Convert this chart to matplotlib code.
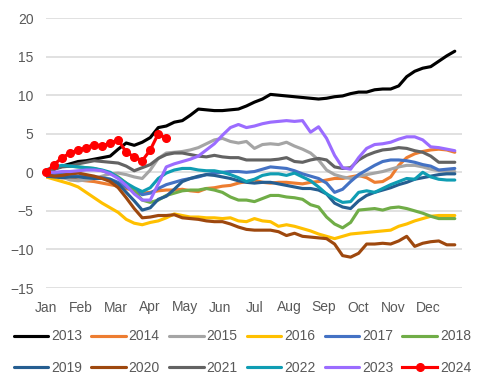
"""Weekly cumulative change by year, Jan-Dec."""

import matplotlib

matplotlib.use("Agg")
import matplotlib.pyplot as plt


MONTHS = ["Jan", "Feb", "Mar", "Apr", "May", "Jun",
          "Jul", "Aug", "Sep", "Oct", "Nov", "Dec"]
YEARS = ["2013", "2014", "2015", "2016", "2017", "2018",
         "2019", "2020", "2021", "2022", "2023", "2024"]

Y2013 = [0, 0.4, 0.8, 1.1, 1.4, 1.5, 1.7, 1.9, 2.1, 3.0, 3.8, 3.5, 3.9, 4.5,
         5.8, 6.0, 6.5, 6.7, 7.4, 8.2, 8.1, 8.0, 8.0, 8.1, 8.2, 8.6, 9.1, 9.5,
         10.1, 10.0, 9.9, 9.8, 9.7, 9.6, 9.5, 9.6, 9.8, 9.9, 10.2, 10.4, 10.4,
         10.7, 10.8, 10.8, 11.2, 12.4, 13.1, 13.5, 13.7, 14.4, 15.1, 15.7]
Y2014 = [-0.2, -0.5, -0.7, -0.8, -1.0, -1.1, -1.2, -1.4, -1.6, -1.8, -2.1,
         -2.4, -2.7, -2.6, -2.4, -2.3, -2.3, -2.2, -2.4, -2.5, -2.1, -2.0,
         -1.8, -1.7, -1.4, -1.2, -1.0, -1.3, -1.4, -1.3, -1.3, -1.4, -1.5,
         -1.3, -1.2, -1.0, -0.8, -0.8, -0.6, -0.4, -0.7, -1.3, -1.2, -0.6,
         0.9, 1.9, 2.4, 2.7, 2.9, 3.0, 2.9, 2.6]
Y2015 = [0, -0.3, -0.6, -1.0, -1.1, -1.0, -0.8, -0.5, -0.2, -0.1, -0.3, -0.6,
         -0.8, 0.3, 1.8, 2.5, 2.6, 2.7, 2.9, 3.2, 3.7, 4.2, 4.4, 4.0, 3.8, 4.0,
         3.1, 3.6, 3.7, 3.6, 3.9, 3.4, 3.0, 2.5, 1.6, 0.3, -0.3, -0.6, -0.8,
         -0.5, -0.3, -0.1, 0.1, 0.4, 0.7, 0.9, 0.9, 0.7, 0.4, 0.2, 0.1, 0.1]
Y2016 = [-0.6, -0.9, -1.2, -1.5, -1.9, -2.6, -3.3, -4.0, -4.6, -5.2, -6.1,
         -6.6, -6.8, -6.5, -6.3, -5.9, -5.4, -5.6, -5.8, -5.8, -5.9, -5.9,
         -6.0, -5.9, -6.3, -6.4, -6.0, -6.3, -6.4, -7.0, -6.8, -7.0, -7.3,
         -7.6, -8.0, -8.3, -8.6, -8.3, -8.0, -7.9, -7.8, -7.7, -7.6, -7.5,
         -7.0, -6.7, -6.3, -6.0, -5.7, -5.6, -5.6, -5.6]
Y2017 = [0, -0.2, -0.3, -0.3, -0.5, -0.5, -0.6, -0.7, -0.9, -1.3, -1.9, -2.4,
         -2.9, -2.7, -2.1, -1.6, -1.3, -1.0, -0.8, -0.6, -0.3, -0.1, 0, 0.1,
         0.1, 0.0, 0.1, 0.4, 0.7, 0.6, 0.5, 0.2, -0.2, -0.5, -0.8, -1.4, -2.6,
         -2.2, -1.2, -0.3, 0.3, 0.9, 1.4, 1.6, 1.6, 1.5, 1.3, 1.0, 0.8, 0.3,
         0.4, 0.5]
Y2018 = [0, 0.5, 0.8, 0.8, 0.7, 0.6, 0.5, 0.2, -0.1, -0.6, -1.4, -2.4, -3.6,
         -3.9, -3.6, -3.0, -2.7, -2.4, -2.3, -2.3, -2.1, -2.3, -2.6, -3.2,
         -3.6, -3.6, -3.8, -3.4, -3.0, -3.0, -3.2, -3.3, -3.5, -4.2, -4.5,
         -5.8, -6.7, -7.2, -6.5, -4.9, -4.8, -4.7, -4.9, -4.6, -4.5, -4.7,
         -5.0, -5.3, -5.7, -6.0, -6.0, -6.0]
Y2019 = [-0.5, -0.6, -0.7, -0.6, -0.6, -0.7, -0.8, -0.8, -0.9, -1.5, -2.6,
         -3.7, -4.9, -4.6, -3.5, -3.1, -2.2, -1.2, -0.8, -0.5, -0.3, -0.4,
         -0.6, -0.8, -1.1, -1.3, -1.4, -1.3, -1.3, -1.5, -1.7, -1.9, -2.1,
         -2.1, -2.3, -2.8, -4.0, -4.5, -4.7, -3.7, -3.0, -2.6, -2.3, -2.0,
         -1.6, -1.3, -0.9, -0.7, -0.5, -0.3, -0.2, -0.2]
Y2020 = [-0.3, -0.5, -0.4, -0.2, -0.1, -0.3, -0.5, -0.8, -1.2, -2.0, -3.3,
         -4.7, -5.9, -5.8, -5.6, -5.6, -5.5, -5.9, -6.0, -6.1, -6.3, -6.4,
         -6.4, -6.7, -7.1, -7.4, -7.5, -7.5, -7.5, -7.7, -8.2, -7.9, -8.3,
         -8.4, -8.5, -8.6, -9.3, -10.8, -11.0, -10.5, -9.3, -9.3, -9.2, -9.3,
         -8.9, -8.3, -9.6, -9.2, -9.0, -8.9, -9.4, -9.4]
Y2021 = [0, 0.4, 0.7, 0.8, 1.1, 1.3, 1.5, 1.4, 1.3, 1.2, 0.8, 0.2, 0.6, 1.0,
         1.8, 2.3, 2.5, 2.5, 2.3, 2.1, 2.0, 2.2, 2.0, 1.9, 1.9, 1.6, 1.6, 1.6,
         1.6, 1.7, 1.9, 1.4, 1.3, 1.6, 1.8, 1.6, 0.7, 0.5, 0.6, 1.6, 2.2, 2.6,
         2.9, 3.0, 3.2, 3.1, 2.8, 2.6, 2.1, 1.3, 1.3, 1.3]
Y2022 = [0.3, 0.7, 0.9, 0.8, 0.7, 0.6, 0.5, 0.3, 0.0, -0.7, -1.4, -2.0, -2.5,
         -2.0, -0.8, -0.1, 0.3, 0.5, 0.5, 0.3, 0.2, 0.2, 0.0, -0.3, -0.7, -1.2,
         -0.9, -0.4, -0.2, -0.2, -0.4, -0.1, -0.6, -1.1, -1.9, -2.8, -3.4,
         -3.9, -3.8, -2.6, -2.4, -2.6, -2.1, -1.6, -1.2, -0.8, -0.9, 0.0,
         -0.6, -0.9, -1.0, -1.0]
Y2023 = [0, 0, 0.1, 0.1, 0.2, 0.3, 0.3, 0.2, -0.2, -0.8, -1.7, -2.8, -3.6,
         -3.6, -1.5, 0.7, 1.1, 1.4, 1.7, 2.1, 2.9, 3.7, 4.8, 5.8, 6.2, 5.8,
         6.0, 6.3, 6.5, 6.6, 6.7, 6.6, 6.7, 5.2, 5.9, 4.4, 2.2, 0.6, 0.4, 1.9,
         3.1, 3.6, 3.7, 3.9, 4.3, 4.6, 4.6, 4.2, 3.3, 3.2, 3.0, 2.8]
Y2024 = [0, 1.0, 1.9, 2.5, 2.9, 3.2, 3.6, 3.4, 3.8, 4.2, 2.6, 2.0, 1.5, 2.9,
         5.0, 4.4]

SERIES = [Y2013, Y2014, Y2015, Y2016, Y2017, Y2018,
          Y2019, Y2020, Y2021, Y2022, Y2023, Y2024]
COLORS = ["#000000", "#ed7d31", "#a5a5a5", "#ffc000", "#4472c4", "#70ad47",
          "#255e91", "#9e480e", "#636363", "#0f9db3", "#9b6cff", "#ff0000"]

WEEKS_PER_YEAR = 52
LEGEND_COLS = 6
TEXT_COLOR = "#595959"

plt.rcParams["font.family"] = ["Liberation Sans", "DejaVu Sans"]
plt.rcParams["font.size"] = 10

fig = plt.figure(figsize=(4.8, 3.84), dpi=100)
ax = fig.add_axes([0.096, 0.25, 0.8665, 0.703])

lines = []
for year, values, color in zip(YEARS, SERIES, COLORS):
    weeks = list(range(len(values)))
    if year == "2024":
        (line,) = ax.plot(weeks, values, color=color, lw=2.25, marker="o",
                          ms=5.5, label=year, clip_on=False, zorder=5)
    else:
        (line,) = ax.plot(weeks, values, color=color, lw=2.25, label=year,
                          solid_capstyle="round", solid_joinstyle="round")
    lines.append(line)

ax.set_xlim(0, 51.9)
ax.set_ylim(-15, 20)
ax.set_yticks(range(-15, 21, 5))
ax.set_xticks([i * WEEKS_PER_YEAR / 12 for i in range(12)], MONTHS)
ax.tick_params(axis="both", length=0, colors=TEXT_COLOR, labelsize=10)
ax.tick_params(axis="y", pad=9)
ax.tick_params(axis="x", pad=9)
ax.grid(axis="y", color="#d9d9d9", lw=1.1)
ax.set_axisbelow(True)
for spine in ax.spines.values():
    spine.set_visible(False)

# legend fills column-wise, so interleave the two rows
rows = len(lines) // LEGEND_COLS
order = [r * LEGEND_COLS + c for c in range(LEGEND_COLS) for r in range(rows)]
fig.legend(
    [lines[i] for i in order],
    [YEARS[i] for i in order],
    loc="center",
    bbox_to_anchor=(0.505, 0.083),
    ncol=LEGEND_COLS,
    frameon=False,
    handlelength=2.5,
    handletextpad=0.2,
    columnspacing=0.65,
    labelspacing=1.25,
    labelcolor=TEXT_COLOR,
    fontsize=10,
)

fig.savefig("out.png", dpi=100)
